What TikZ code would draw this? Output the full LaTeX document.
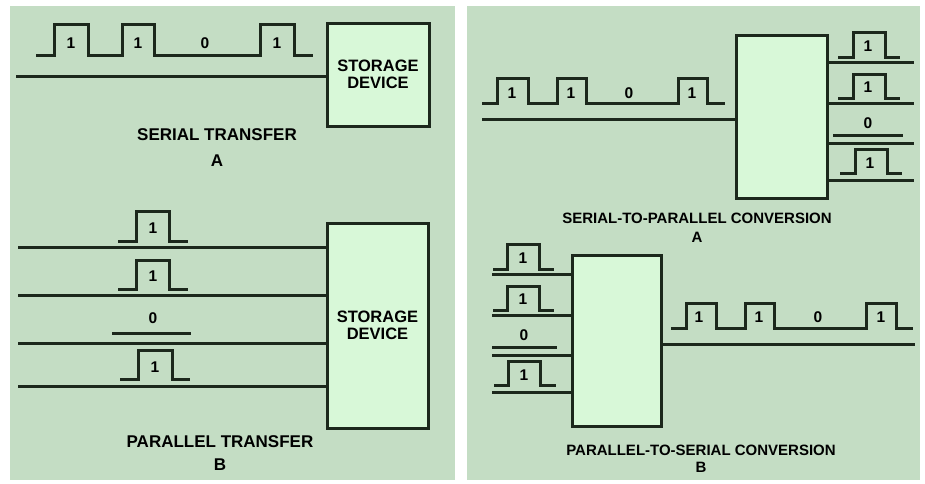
\documentclass[tikz,border=0pt]{standalone}
\usepackage{fontspec}
\setmainfont{Liberation Sans}
\usetikzlibrary{positioning}

\definecolor{panelgreen}{RGB}{196,221,196}
\definecolor{boxgreen}{RGB}{216,248,216}
\definecolor{inkdark}{RGB}{28,40,28}

\tikzset{
  wire/.style={draw=inkdark, line width=3pt},
  pulse/.style={draw=inkdark, line width=3pt, line join=miter},
  box/.style={draw=inkdark, line width=3pt, fill=boxgreen, inner sep=0pt, align=center,
    font=\fontsize{16.5}{18}\selectfont\bfseries},
  bit/.style={font=\fontsize{15.5}{16}\selectfont\bfseries, inner sep=0pt},
  caption/.style={font=\fontsize{17}{19}\selectfont\bfseries, inner sep=0pt, align=center},
  smallcaption/.style={caption, font=\fontsize{15}{17}\selectfont\bfseries}
}

\begin{document}
\begin{tikzpicture}[x=1pt, y=-1pt]

\useasboundingbox (0,0) rectangle (925,483);
\fill[white] (0,0) rectangle (925,483);

% the two panels
\fill[panelgreen] (10,6) rectangle (455,480);
\fill[panelgreen] (467,6) rectangle (920,480);

%% left, A: serial transfer
\node[box, minimum width=102pt, minimum height=103pt] (storA) at (378,74.5) {STORAGE\\[-1pt]DEVICE};
\coordinate (inA) at (16,76);
\draw[wire] (inA) -- (inA -| storA.west);

\draw[pulse] (36,55) -- (54,55) -- (54,24) -- (88,24) -- (88,55) -- (122,55) -- (122,24) -- (154,24)
  -- (154,55) -- (260,55) -- (260,24) -- (294,24) -- (294,55) -- (313,55);
\node[bit] (a1) at (71,43) {1};
\node[bit] (a2) at (138,43) {1};
\node[bit] (a3) at (205,43) {0};
\node[bit] (a4) at (277,43) {1};

\node[caption] (capA) at (217,135) {SERIAL TRANSFER};
\node[caption] (letA) at (217,161) {A};

%% left, B: parallel transfer
\node[box, minimum width=101pt, minimum height=205pt] (storB) at (377.5,325.5) {STORAGE\\[-1pt]DEVICE};
\foreach \y/\n in {247/1, 295/2, 343/3, 386/4}{
  \coordinate (inB\n) at (18,\y);
  \draw[wire] (inB\n) -- (inB\n -| storB.west);
}

\draw[pulse] (118,241) -- (136,241) -- (136,211) -- (169,211) -- (169,241) -- (188,241);
\node[bit] (b1) at (153,228) {1};
\draw[pulse] (118,289) -- (136,289) -- (136,260) -- (169,260) -- (169,289) -- (188,289);
\node[bit] (b2) at (153,276) {1};
\draw[pulse] (112,333) -- (191,333);
\node[bit] (b3) at (153,318) {0};
\draw[pulse] (120,379) -- (138,379) -- (138,350) -- (172,350) -- (172,379) -- (190,379);
\node[bit] (b4) at (155,367) {1};

\node[caption] (capB) at (220,442) {PARALLEL TRANSFER};
\node[caption] (letB) at (220,465) {B};

%% right, A: serial to parallel
\node[box, minimum width=91pt, minimum height=163pt] (convA) at (781.5,116.5) {};
\coordinate (inC) at (482,119);
\draw[wire] (inC) -- (inC -| convA.west);

\draw[pulse] (482,103) -- (497,103) -- (497,78) -- (528,78) -- (528,103) -- (557,103) -- (557,78) -- (586,78)
  -- (586,103) -- (678,103) -- (678,78) -- (707,78) -- (707,103) -- (725,103);
\node[bit] (c1) at (512,93) {1};
\node[bit] (c2) at (571,93) {1};
\node[bit] (c3) at (629,93) {0};
\node[bit] (c4) at (692,93) {1};

\foreach \y/\n in {62/1, 103/2, 143/3, 180/4}{
  \coordinate (outC\n) at (914,\y);
  \draw[wire] (outC\n -| convA.east) -- (outC\n);
}
\draw[pulse] (838,57) -- (853,57) -- (853,32) -- (885,32) -- (885,57) -- (900,57);
\node[bit] (d1) at (868,46) {1};
\draw[pulse] (838,98) -- (853,98) -- (853,74) -- (885,74) -- (885,98) -- (900,98);
\node[bit] (d2) at (868,87) {1};
\draw[pulse] (833,135) -- (903,135);
\node[bit] (d3) at (868,123) {0};
\draw[pulse] (840,173) -- (855,173) -- (855,149) -- (887,149) -- (887,173) -- (902,173);
\node[bit] (d4) at (870,163) {1};

\node[smallcaption] (capC) at (697,218) {SERIAL-TO-PARALLEL CONVERSION};
\node[smallcaption] (letC) at (697,237) {A};

%% right, B: parallel to serial
\node[box, minimum width=89pt, minimum height=171pt] (convB) at (616.5,340.5) {};
\foreach \y/\n in {274/1, 315/2, 355/3, 392/4}{
  \coordinate (inD\n) at (492,\y);
  \draw[wire] (inD\n) -- (inD\n -| convB.west);
}
\draw[pulse] (493,269) -- (507,269) -- (507,244) -- (539,244) -- (539,269) -- (554,269);
\node[bit] (e1) at (523,258) {1};
\draw[pulse] (493,310) -- (507,310) -- (507,286) -- (539,286) -- (539,310) -- (554,310);
\node[bit] (e2) at (523,299) {1};
\draw[pulse] (492,347) -- (557,347);
\node[bit] (e3) at (524,335) {0};
\draw[pulse] (494,385) -- (508,385) -- (508,361) -- (540,361) -- (540,385) -- (556,385);
\node[bit] (e4) at (524,375) {1};

\coordinate (outD) at (915,344);
\draw[wire] (outD -| convB.east) -- (outD);
\draw[pulse] (671,328) -- (686,328) -- (686,303) -- (716,303) -- (716,328) -- (745,328) -- (745,303) -- (774,303)
  -- (774,328) -- (866,328) -- (866,303) -- (896,303) -- (896,328) -- (913,328);
\node[bit] (f1) at (699,317) {1};
\node[bit] (f2) at (759,317) {1};
\node[bit] (f3) at (818,317) {0};
\node[bit] (f4) at (881,317) {1};

\node[smallcaption] (capD) at (701,450) {PARALLEL-TO-SERIAL CONVERSION};
\node[smallcaption] (letD) at (701,467) {B};

\end{tikzpicture}
\end{document}
